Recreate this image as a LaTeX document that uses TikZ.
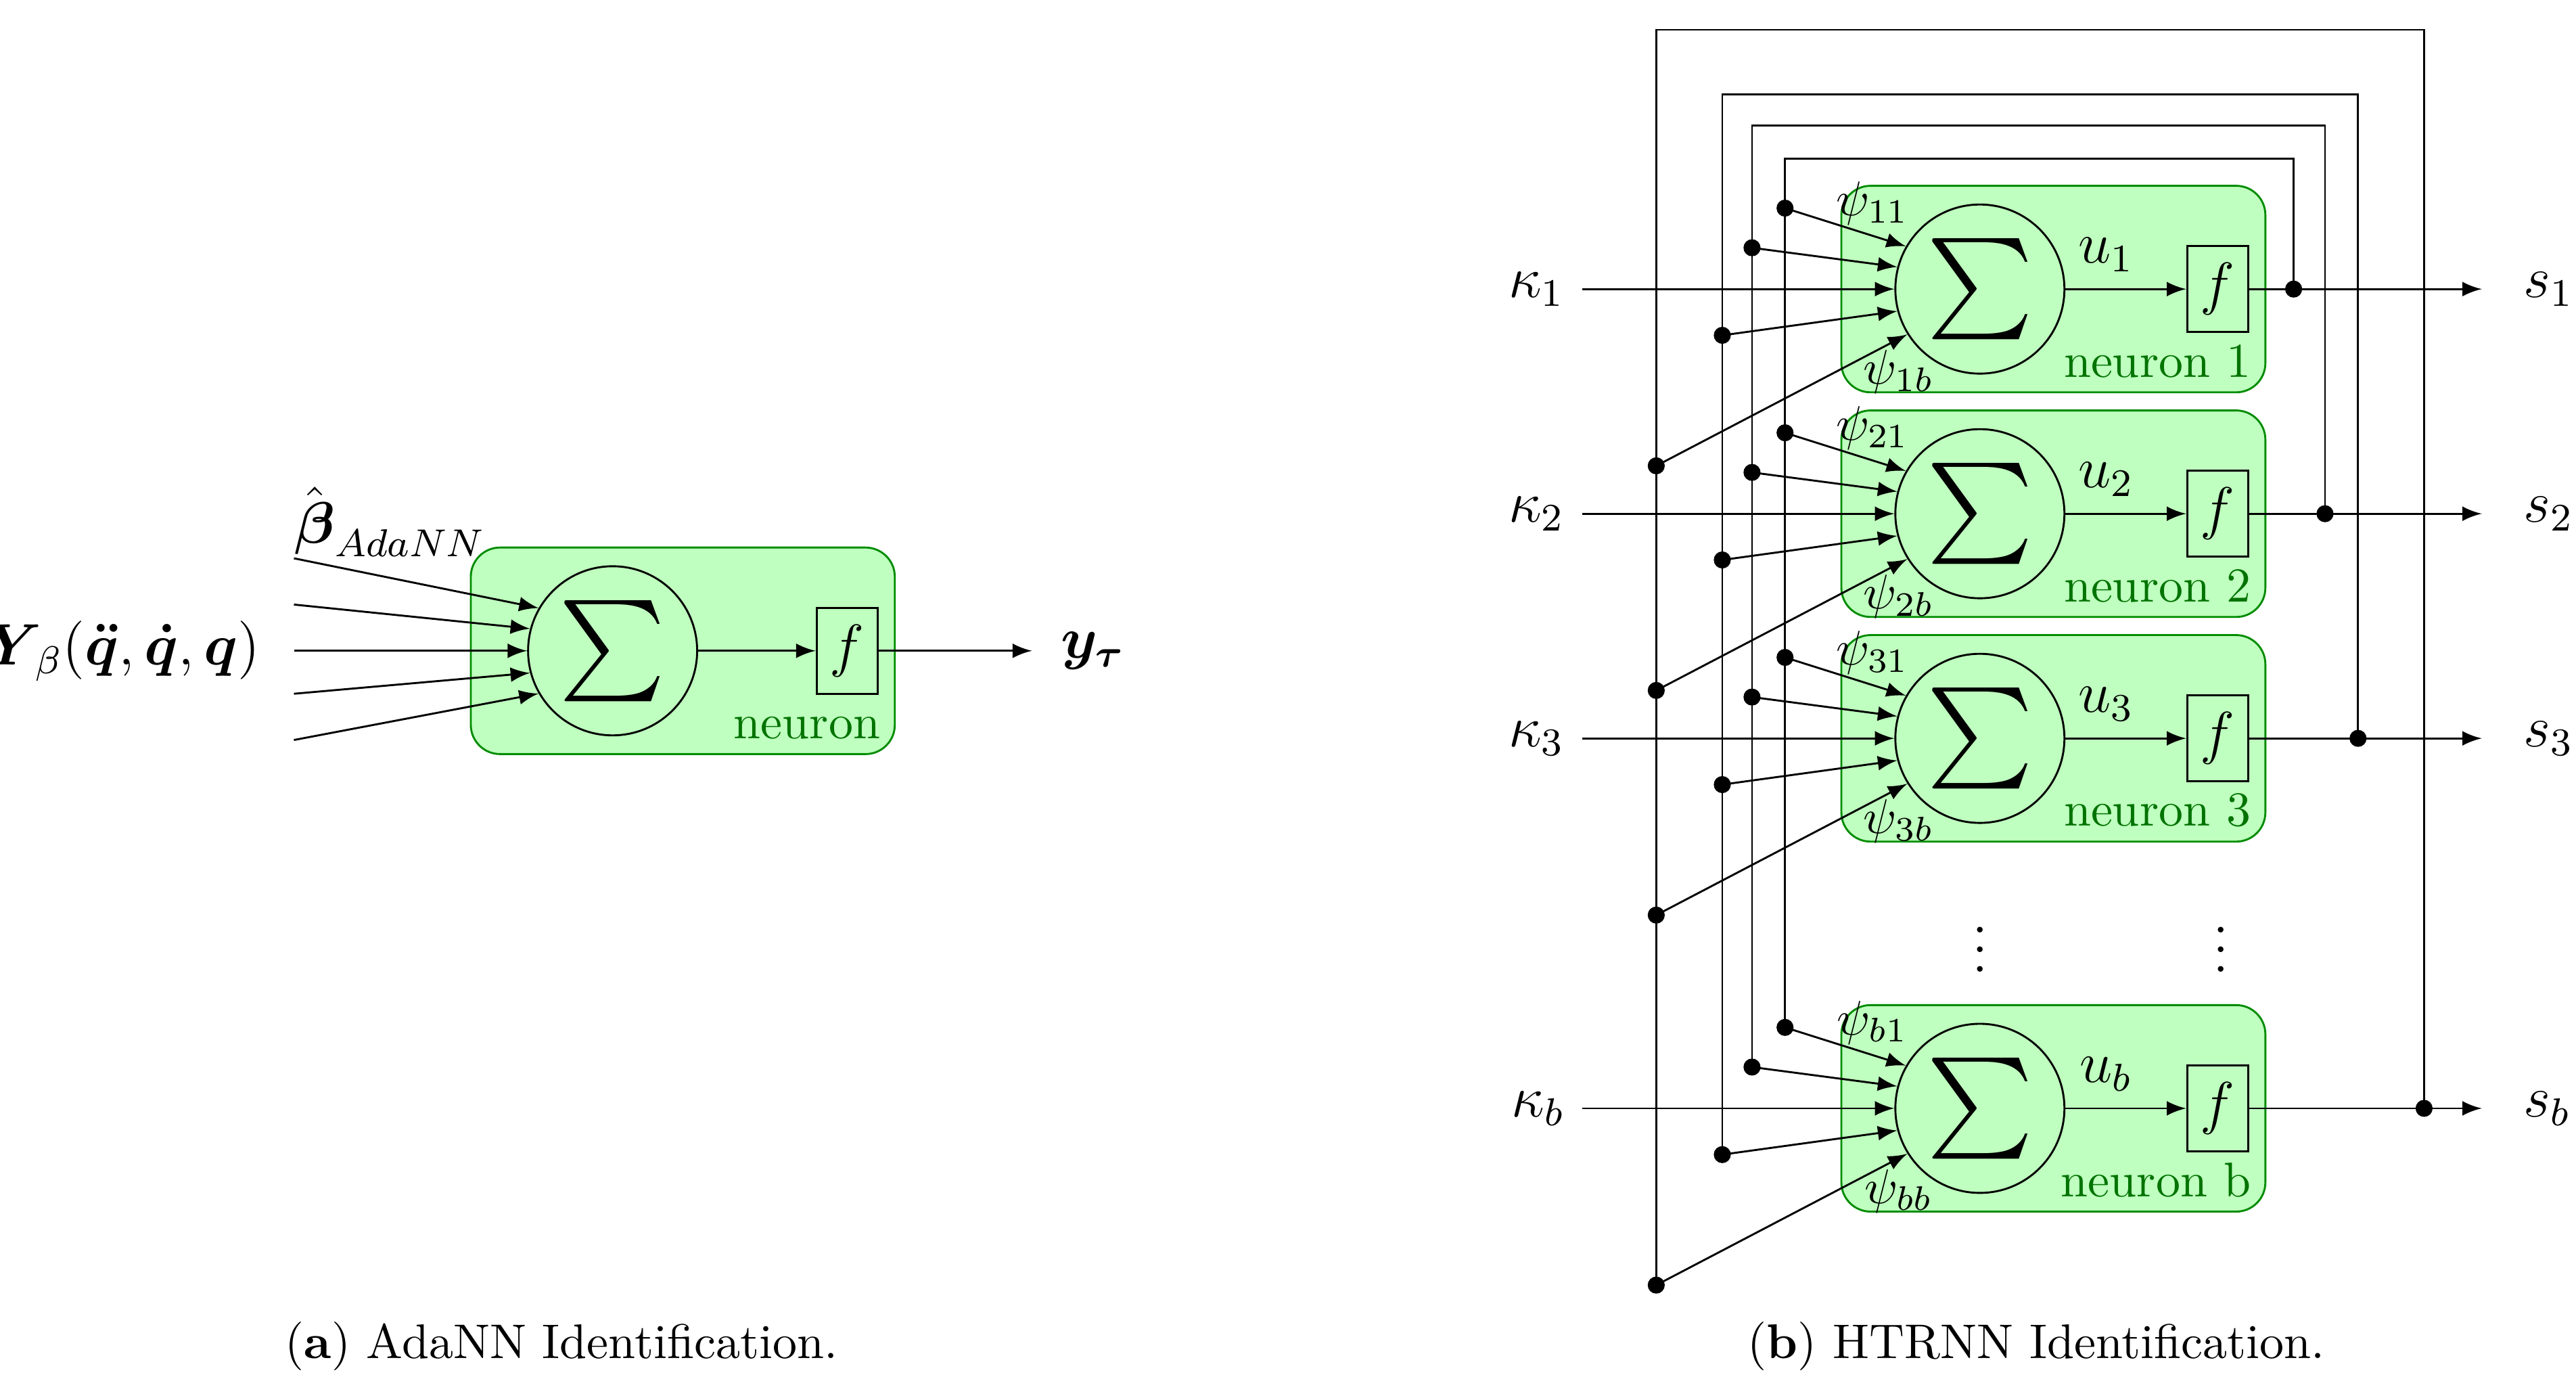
\documentclass[tikz,border=0pt]{standalone}
\usepackage{amsmath,amssymb}
\usepackage{tikz}
\usetikzlibrary{arrows,shapes}
\usetikzlibrary{positioning}
\tikzset{neuron box/.style={rectangle,rounded corners=6pt,fill=green!25,draw=green!55!black,minimum width=3.06cm,minimum height=1.49cm},
sum node/.style={circle,draw,minimum size=1.22cm,inner sep=0pt,font=\huge},
act node/.style={rectangle,draw,minimum width=0.44cm,minimum height=0.62cm,inner sep=0pt,font=\large},
lbl/.style={font=\large},
dot/.style={circle,fill,inner sep=0pt,minimum size=3.5pt},
}
\begin{document}
\begin{tikzpicture}[x=0.01192cm,y=-0.01192cm,>=latex]
		\useasboundingbox (0,0) rectangle (1560,846);
		%% (a) AdaNN
		\node[neuron box] (box) at (413.5,394) {};
		\node[sum node] (sum) at (371,394) {$\sum$};
		\node[act node] (f) at (513,394) {$f$};
		\node[anchor=south east,text=green!45!black,inner sep=3pt] (nlab) at (box.south east) {neuron};
		\coordinate (y) at (625,394);
		\node[lbl,anchor=west] (ylab) at (632,394) {$\boldsymbol{y_\tau}$};
		\node[anchor=east] (Ylab) at (168,394) {\large$\boldsymbol{Y}_{\!\beta}(\boldsymbol{\ddot q},\boldsymbol{\dot q},\boldsymbol{q})$};
		\node[anchor=west] (blab) at (168,316) {\large$\hat{\boldsymbol{\beta}}_{AdaNN}$};
		\foreach \a/\yy in {150/338,165/366,180/394,195/420,210/448}{
			\coordinate (in\a) at (178,\yy);
			\draw[->] (in\a) -- (sum.\a);
		}
		\draw[->] (sum) -- (f);
		\draw[->] (f) -- (y);
		\node (capa) at (340,815) {(\textbf{a}) AdaNN Identification.};
		%% (b) HTRNN
		\foreach \i/\y in {1/175,2/311,3/447,b/671}{
			\node[neuron box] (box\i) at (1243.5,\y) {};
			\node[sum node] (sum\i) at (1199,\y) {$\sum$};
			\node[act node] (f\i) at (1343,\y) {$f$};
			\node[lbl,anchor=east] (k\i) at (958,\y) {$\kappa_\i$};
			\node[lbl,anchor=west] (s\i) at (1518,\y) {$s_\i$};
			\coordinate (o\i) at (1503,\y);
			\node[anchor=south east,text=green!45!black,inner sep=3pt] (n\i) at (box\i.south east) {neuron \i};
			\node[inner sep=1pt] (pt\i) at (1134,\y-52) {$\psi_{\i1}$};
			\node[inner sep=1pt] (pb\i) at (1150,\y+50) {$\psi_{\i b}$};
			\coordinate (a\i) at (1081,\y-49);
			\coordinate (c\i) at (1061,\y-25);
			\coordinate (d\i) at (1043,\y+28);
			\coordinate (e\i) at (1003,\y+107);
			\draw[->] (k\i) -- (sum\i);
			\draw[->] (sum\i) -- node[lbl,above,xshift=-4pt] {$u_\i$} (f\i);
			\draw[->] (f\i) -- (o\i);
			\draw[->] (a\i) -- (sum\i.150);
			\draw[->] (c\i) -- (sum\i.165);
			\draw[->] (d\i) -- (sum\i.195);
			\draw[->] (e\i) -- (sum\i.212);
			\foreach \p in {a,c,d,e} \node[dot] at (\p\i) {};
		}
		%% feedback
		\coordinate (t1) at (1389,175);
		\coordinate (t2) at (1408,311);
		\coordinate (t3) at (1428,447);
		\coordinate (tb) at (1468,671);
		\coordinate (u1) at (1081,96);
		\coordinate (u2) at (1061,76);
		\coordinate (u3) at (1043,57);
		\coordinate (ub) at (1003,18);
		\draw (t1) |- (u1) -- (ab);
		\draw (t2) |- (u2) -- (cb);
		\draw (t3) |- (u3) -- (db);
		\draw (tb) |- (ub) -- (eb);
		\foreach \t in {t1,t2,t3,tb} \node[dot] at (\t) {};
		\node[font=\large] (vd1) at (1199,566) {$\vdots$};
		\node[font=\large] (vd2) at (1345,566) {$\vdots$};
		\node (capb) at (1233,815) {(\textbf{b}) HTRNN Identification.};
	\end{tikzpicture}
\end{document}
